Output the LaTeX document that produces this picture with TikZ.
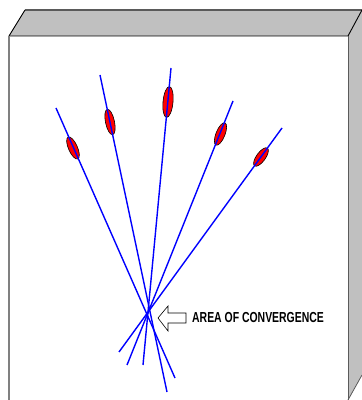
\documentclass[tikz,border=0pt]{standalone}
\usepackage{fontspec}
\setmainfont{Liberation Sans}
\usetikzlibrary{shapes.geometric}
\definecolor{boxgray}{RGB}{192,192,192}
\definecolor{edgegray}{RGB}{90,90,90}
\definecolor{rayblue}{RGB}{0,0,255}
\tikzset{
  ray/.style={draw=rayblue, line width=1.4pt},
  lens/.style={ellipse, draw=black, line width=0.6pt, fill=red, inner sep=0pt},
  label/.style={anchor=west, inner sep=0pt, font=\bfseries\fontsize{14.5}{16}\selectfont}
}
\begin{document}
\begin{tikzpicture}[x=1pt,y=1pt]
\useasboundingbox (0,0) rectangle (362,400);
% box
\fill[boxgray] (9,364) -- (25,390) -- (362,390) -- (348,364) -- cycle;
\fill[boxgray] (348,364) -- (362,390) -- (362,25) -- (348,0) -- cycle;
\fill[white] (9,0) rectangle (348,364);
\draw[edgegray, line width=1.8pt] (25,390) -- (362,390);
\draw[black, line width=0.9pt] (9,364) -- (25,390);
\draw[black, line width=0.9pt] (9,364) -- (348,364) -- (362,390);
\draw[edgegray, line width=1pt] (348,364) -- (348,0);
\draw[edgegray, line width=0.8pt] (348,0) -- (362,25);
\draw[gray, line width=1.6pt] (9,364) -- (9,0);
% lenses
\node[lens, minimum width=9pt, minimum height=24pt, rotate=23.8] (e1) at (73,252) {};
\node[lens, minimum width=9pt, minimum height=26pt, rotate=11.9] (e2) at (110,278) {};
\node[lens, minimum width=10pt, minimum height=31pt, rotate=-5.4] (e3) at (168,298) {};
\node[lens, minimum width=9pt, minimum height=24pt, rotate=-21.9] (e4) at (220.5,266) {};
\node[lens, minimum width=9pt, minimum height=22pt, rotate=-36] (e5) at (261,243) {};
% rays
\coordinate (t1) at (56,292);  \coordinate (b1) at (175,22);
\coordinate (t2) at (100,325); \coordinate (b2) at (167,8);
\coordinate (t3) at (171,332); \coordinate (b3) at (143,35);
\coordinate (t4) at (233,299); \coordinate (b4) at (127,35);
\coordinate (t5) at (282,272); \coordinate (b5) at (119,48);
\draw[ray] (t1) -- (b1);
\draw[ray] (t2) -- (b2);
\draw[ray] (t3) -- (b3);
\draw[ray] (t4) -- (b4);
\draw[ray] (t5) -- (b5);
% arrow
\draw[black, fill=white, line width=0.6pt] (158,82) -- (168,94) -- (168,87) -- (186,87) -- (186,77) -- (168,77) -- (168,69) -- cycle;
\node[label] (lbl) at (192,82.5) {\scalebox{0.72}[1]{AREA OF CONVERGENCE}};
\end{tikzpicture}
\end{document}
